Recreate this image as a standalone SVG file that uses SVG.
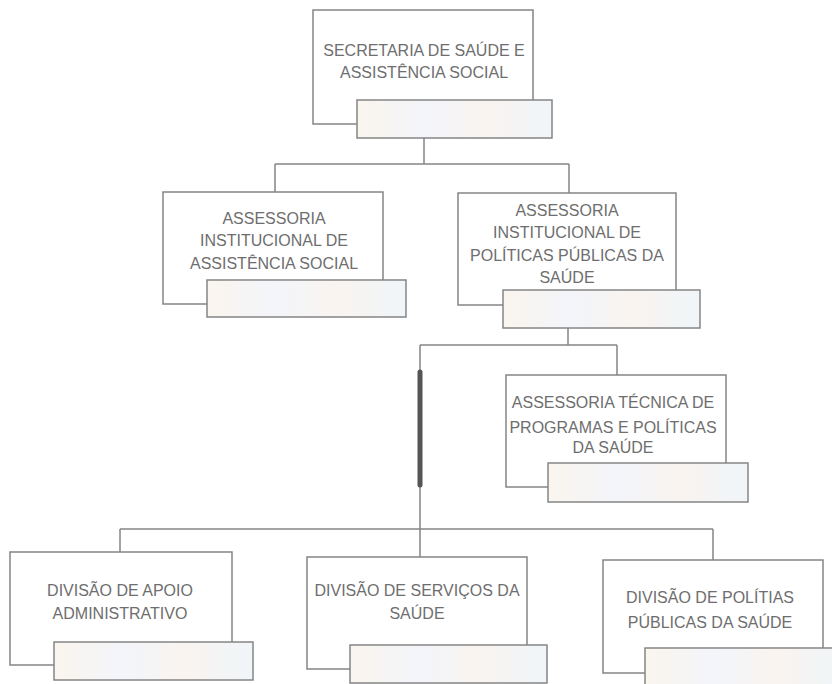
<svg xmlns="http://www.w3.org/2000/svg" width="832" height="684" viewBox="0 0 832 684">
<defs>
<linearGradient id="bg" x1="0" y1="0" x2="1" y2="0">
<stop offset="0" stop-color="#faf5ee"/>
<stop offset="0.35" stop-color="#f3f5fa"/>
<stop offset="0.65" stop-color="#f9f4f0"/>
<stop offset="1" stop-color="#f0f5f9"/>
</linearGradient>
<style>
.box{fill:#fff;stroke:#858585;stroke-width:1.5}
.bar{fill:url(#bg);stroke:#858585;stroke-width:1.5}
.t{font-family:"Liberation Sans",Arial,sans-serif;font-size:16px;fill:#6e6e6e;text-anchor:middle}
.c{fill:none;stroke:#858585;stroke-width:1.5}
</style>
</defs>
<rect width="832" height="684" fill="#fff"/>
<g id="connectors">
<path class="c" d="M424,138 V164 M275,164 H569 M275,164 V192 M569,164 V193"/>
<path class="c" d="M568,328 V345 M420,345 H617 M617,345 V375 M420,345 V557"/>
<path class="c" d="M120,529 H713 M120,529 V552 M713,529 V560"/>
<line x1="420" y1="372" x2="420" y2="485" stroke="#555" stroke-width="5" stroke-linecap="round"/>
</g>
<g id="n1">
<rect class="box" x="313" y="10" width="220" height="114"/>
<text class="t" x="424" y="56">SECRETARIA DE SAÚDE E</text>
<text class="t" x="424" y="78">ASSISTÊNCIA SOCIAL</text>
<rect class="bar" x="357" y="100" width="195" height="38"/>
</g>
<g id="n2">
<rect class="box" x="163" y="192" width="220" height="112"/>
<text class="t" x="274" y="224">ASSESSORIA</text>
<text class="t" x="274" y="246">INSTITUCIONAL DE</text>
<text class="t" x="274" y="269">ASSISTÊNCIA SOCIAL</text>
<rect class="bar" x="207" y="280" width="199" height="37"/>
</g>
<g id="n3">
<rect class="box" x="458" y="193" width="218" height="112"/>
<text class="t" x="567" y="216">ASSESSORIA</text>
<text class="t" x="567" y="238">INSTITUCIONAL DE</text>
<text class="t" x="567" y="261">POLÍTICAS PÚBLICAS DA</text>
<text class="t" x="567" y="283">SAÚDE</text>
<rect class="bar" x="503" y="290" width="197" height="38"/>
</g>
<g id="n4">
<rect class="box" x="506" y="375" width="220" height="112"/>
<text class="t" x="613" y="408">ASSESSORIA TÉCNICA DE</text>
<text class="t" x="613" y="433">PROGRAMAS E POLÍTICAS</text>
<text class="t" x="613" y="453">DA SAÚDE</text>
<rect class="bar" x="548" y="463" width="200" height="39"/>
</g>
<g id="n5">
<rect class="box" x="10" y="552" width="222" height="113"/>
<text class="t" x="120" y="596">DIVISÃO DE APOIO</text>
<text class="t" x="120" y="619">ADMINISTRATIVO</text>
<rect class="bar" x="54" y="642" width="199" height="38"/>
</g>
<g id="n6">
<rect class="box" x="307" y="557" width="220" height="112"/>
<text class="t" x="417" y="596">DIVISÃO DE SERVIÇOS DA</text>
<text class="t" x="417" y="619">SAÚDE</text>
<rect class="bar" x="350" y="645" width="197" height="38"/>
</g>
<g id="n7">
<rect class="box" x="603" y="560" width="220" height="113"/>
<text class="t" x="710" y="603">DIVISÃO DE POLÍTIAS</text>
<text class="t" x="710" y="628">PÚBLICAS DA SAÚDE</text>
<rect class="bar" x="645" y="648" width="200" height="40"/>
</g>
</svg>
